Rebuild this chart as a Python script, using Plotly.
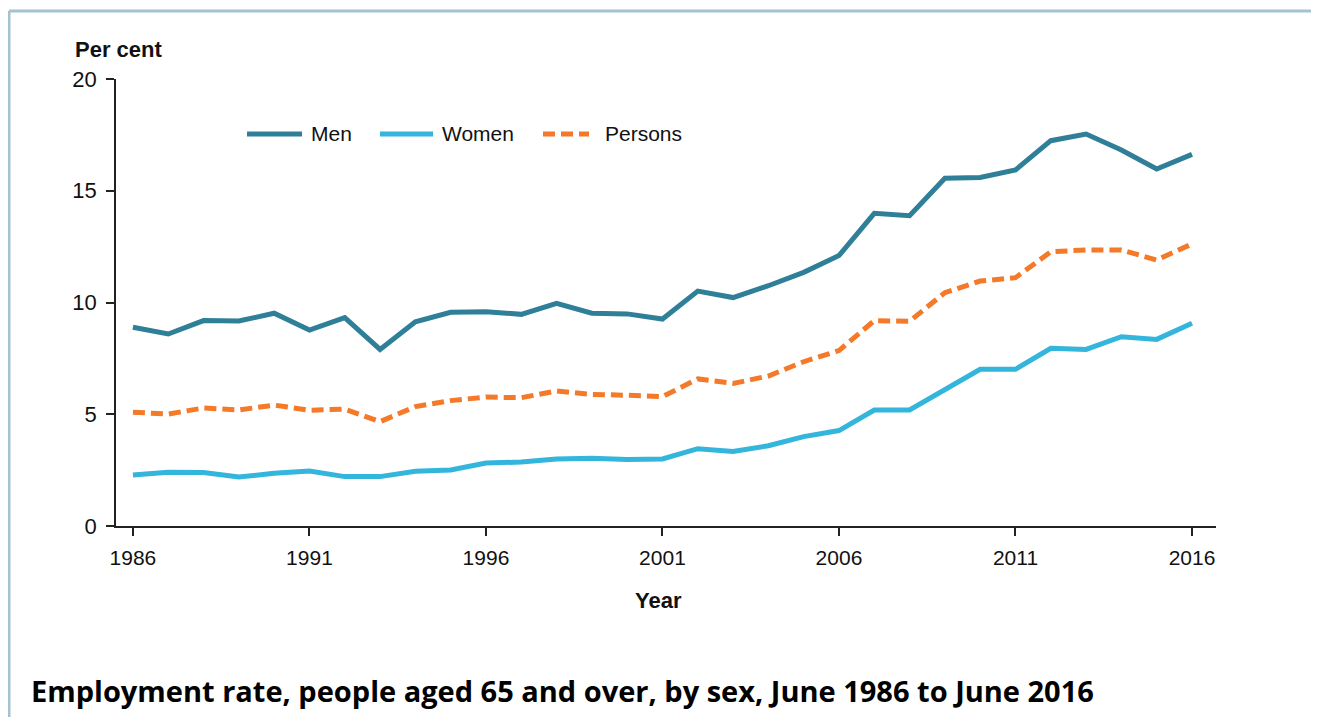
import plotly.graph_objects as go

years = list(range(1986, 2017))
men = [8.89, 8.59, 9.19, 9.17, 9.52, 8.77, 9.32, 7.90, 9.14, 9.56,
       9.59, 9.47, 9.96, 9.52, 9.49, 9.26, 10.51, 10.22, 10.75, 11.35,
       12.10, 13.99, 13.88, 15.56, 15.59, 15.93, 17.24, 17.54, 16.82, 15.97,
       16.63]
women = [2.28, 2.40, 2.39, 2.19, 2.36, 2.46, 2.21, 2.21, 2.45, 2.51,
         2.82, 2.86, 3.00, 3.03, 2.98, 3.00, 3.46, 3.33, 3.59, 4.00,
         4.27, 5.19, 5.19, 6.09, 7.01, 7.01, 7.95, 7.90, 8.47, 8.35,
         9.07]
persons = [5.09, 5.01, 5.28, 5.19, 5.41, 5.18, 5.23, 4.67, 5.34, 5.61,
           5.77, 5.74, 6.04, 5.89, 5.85, 5.79, 6.58, 6.38, 6.71, 7.35,
           7.85, 9.19, 9.16, 10.44, 10.96, 11.11, 12.27, 12.35, 12.35, 11.90,
           12.62]
xticks = [1986, 1991, 1996, 2001, 2006, 2011, 2016]
yticks = [0, 5, 10, 15, 20]

# page is offset by the body margin, so work in page pixels and shift
OFF = 8
W, H = 1319 - OFF, 717 - OFF
L, R, T, B = 116, 1216, 79, 526  # plot area in page pixels


def px(x):
    return (x - L) / (R - L)


def py(y):
    return (B - y) / (B - T)


c_men = "#2e7f97"
c_women = "#33b5dc"
c_pers = "#f47929"
font = "Liberation Sans, Arial, sans-serif"
pdash = "12px,6px"

fig = go.Figure()
fig.add_trace(go.Scatter(x=years, y=men, mode="lines", name="Men",
                         line=dict(color=c_men, width=5)))
fig.add_trace(go.Scatter(x=years, y=women, mode="lines", name="Women",
                         line=dict(color=c_women, width=5)))
fig.add_trace(go.Scatter(x=years, y=persons, mode="lines", name="Persons",
                         line=dict(color=c_pers, width=5, dash=pdash)))

shapes = []
# frame (top and left only)
shapes.append(dict(type="line", xref="paper", yref="paper",
                   x0=px(9), x1=px(1330), y0=py(11), y1=py(11),
                   line=dict(color="#a3c3d1", width=3)))
shapes.append(dict(type="line", xref="paper", yref="paper",
                   x0=px(9), x1=px(9), y0=py(11), y1=py(730),
                   line=dict(color="#a3c3d1", width=3)))

# hand-made legend
legend = [("Men", c_men, "solid", 247, 302, 309),
          ("Women", c_women, "solid", 380, 433, 440),
          ("Persons", c_pers, pdash, 543, 589, 603)]
annotations = []
for name, col, dash, a, b, t in legend:
    shapes.append(dict(type="line", xref="paper", yref="paper",
                       x0=px(a), x1=px(b), y0=py(134), y1=py(134),
                       line=dict(color=col, width=5, dash=dash)))
    annotations.append(dict(text=name, xref="paper", yref="paper",
                            x=px(t), y=py(134), xanchor="left", yanchor="middle",
                            showarrow=False, font=dict(size=21, color="#111")))

annotations.append(dict(text="<b>Per cent</b>", xref="paper", yref="paper",
                        x=px(73), y=py(50), xanchor="left", yanchor="middle",
                        showarrow=False, font=dict(size=22, color="#111")))
annotations.append(dict(text="<b>Year</b>", xref="paper", yref="paper",
                        x=px(658.5), y=py(600), xanchor="center", yanchor="middle",
                        showarrow=False, font=dict(size=22, color="#111")))
annotations.append(dict(text="<b>Employment rate, people aged 65 and over, by sex, June 1986 to June 2016</b>",
                        xref="paper", yref="paper",
                        x=px(29), y=py(690), xanchor="left", yanchor="middle",
                        showarrow=False,
                        font=dict(family="Open Sans, sans-serif", size=29, color="#000")))

fig.update_layout(
    width=W, height=H,
    margin=dict(l=L - OFF, r=W - (R - OFF), t=T - OFF, b=H - (B - OFF)),
    plot_bgcolor="white", paper_bgcolor="white",
    showlegend=False,
    font=dict(family=font, size=21, color="#111"),
    shapes=shapes, annotations=annotations,
)
fig.update_xaxes(range=[1985.52, 2016.68], tickvals=xticks, showgrid=False,
                 zeroline=False, showline=True, linecolor="#222", linewidth=1.5,
                 ticks="outside", ticklen=8, tickwidth=1.5, tickcolor="#222",
                 ticklabelstandoff=4)
fig.update_yaxes(range=[0, 20], tickvals=yticks, showgrid=False,
                 zeroline=False, showline=True, linecolor="#222", linewidth=1.5,
                 ticks="outside", ticklen=8, tickwidth=1.5, tickcolor="#222",
                 ticklabelstandoff=5, tickfont=dict(size=22))

fig.write_html("out.html")
